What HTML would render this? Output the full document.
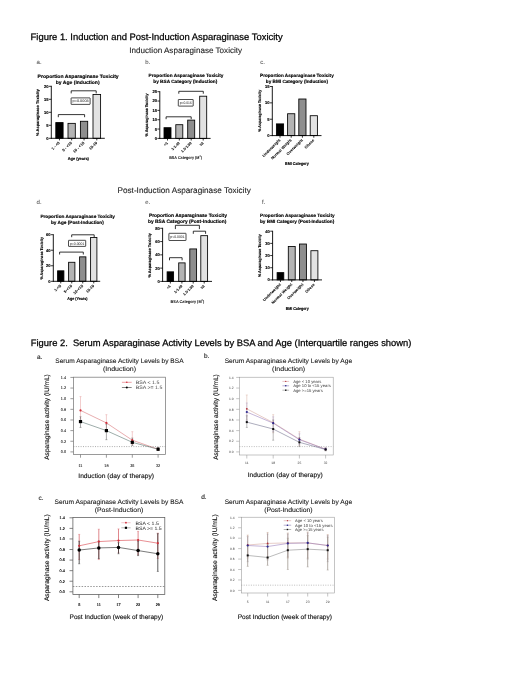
<!DOCTYPE html>
<html><head><meta charset="utf-8"><title>Figure</title>
<style>
html,body{margin:0;padding:0;background:#fff;}
body{width:520px;height:673px;overflow:hidden;font-family:"Liberation Sans",sans-serif;}
svg{display:block;filter:blur(0.35px);}
</style></head><body>
<svg width="520" height="673" viewBox="0 0 520 673" font-family="Liberation Sans, sans-serif" text-rendering="geometricPrecision">
<rect x="0" y="0" width="520" height="673" fill="#fff"/>
<text x="30.60" y="39.80" font-size="9.37" font-weight="normal" text-anchor="start" fill="#000" textLength="252.00" lengthAdjust="spacingAndGlyphs" stroke="#000" stroke-width="0.25">Figure 1. Induction and Post-Induction Asparaginase Toxicity</text>
<text x="129.30" y="52.50" font-size="8.05" font-weight="normal" text-anchor="start" fill="#222" textLength="112.80" lengthAdjust="spacingAndGlyphs" stroke="#222" stroke-width="0.1">Induction Asparaginase Toxicity</text>
<text x="117.50" y="192.90" font-size="8.16" font-weight="normal" text-anchor="start" fill="#222" textLength="133.30" lengthAdjust="spacingAndGlyphs" stroke="#222" stroke-width="0.1">Post-Induction Asparaginase Toxicity</text>
<text x="30.80" y="346.00" font-size="9.32" font-weight="normal" text-anchor="start" fill="#000" textLength="380.60" lengthAdjust="spacingAndGlyphs" xml:space="preserve" stroke="#000" stroke-width="0.25">Figure 2.  Serum Asparaginase Activity Levels by BSA and Age (Interquartile ranges shown)</text>
<text x="78.10" y="77.70" font-size="4.9" font-weight="bold" text-anchor="middle" fill="#000" textLength="81.20" lengthAdjust="spacingAndGlyphs" stroke="#000" stroke-width="0.14" >Proportion Asparaginase Toxicity</text>
<text x="77.70" y="84.00" font-size="4.9" font-weight="bold" text-anchor="middle" fill="#000" textLength="43.80" lengthAdjust="spacingAndGlyphs" stroke="#000" stroke-width="0.14" >by Age (Induction)</text>
<text x="36.60" y="64.20" font-size="6.0" font-weight="normal" text-anchor="start" fill="#3a3a3a" >a.</text>
<rect x="55.80" y="122.58" width="7.30" height="15.72" fill="#000000" stroke="#000" stroke-width="0.85"/>
<rect x="68.00" y="123.36" width="7.30" height="14.94" fill="#b4b4b4" stroke="#000" stroke-width="0.85"/>
<rect x="80.40" y="121.28" width="7.30" height="17.02" fill="#8e8e8e" stroke="#000" stroke-width="0.85"/>
<rect x="93.00" y="94.50" width="7.60" height="43.80" fill="#e2e2e2" stroke="#000" stroke-width="0.85"/>
<line x1="51.30" y1="85.80" x2="51.30" y2="138.75" stroke="#000" stroke-width="0.9" />
<line x1="50.85" y1="138.30" x2="104.80" y2="138.30" stroke="#000" stroke-width="0.9" />
<line x1="48.90" y1="138.30" x2="51.30" y2="138.30" stroke="#000" stroke-width="0.8" />
<text x="48.50" y="139.75" font-size="4.1" font-weight="bold" text-anchor="end" fill="#000" stroke="#000" stroke-width="0.14" >0</text>
<line x1="48.90" y1="125.30" x2="51.30" y2="125.30" stroke="#000" stroke-width="0.8" />
<text x="48.50" y="126.75" font-size="4.1" font-weight="bold" text-anchor="end" fill="#000" stroke="#000" stroke-width="0.14" >5</text>
<line x1="48.90" y1="112.30" x2="51.30" y2="112.30" stroke="#000" stroke-width="0.8" />
<text x="48.50" y="113.75" font-size="4.1" font-weight="bold" text-anchor="end" fill="#000" stroke="#000" stroke-width="0.14" >10</text>
<line x1="48.90" y1="99.30" x2="51.30" y2="99.30" stroke="#000" stroke-width="0.8" />
<text x="48.50" y="100.75" font-size="4.1" font-weight="bold" text-anchor="end" fill="#000" stroke="#000" stroke-width="0.14" >15</text>
<line x1="48.90" y1="86.30" x2="51.30" y2="86.30" stroke="#000" stroke-width="0.8" />
<text x="48.50" y="87.75" font-size="4.1" font-weight="bold" text-anchor="end" fill="#000" stroke="#000" stroke-width="0.14" >20</text>
<line x1="59.45" y1="138.30" x2="59.45" y2="140.40" stroke="#000" stroke-width="0.8" />
<text x="60.15" y="143.20" font-size="3.9" font-weight="bold" text-anchor="end" fill="#000" transform="rotate(-45 60.15 143.20)" stroke="#000" stroke-width="0.05" >1 - &lt;5</text>
<line x1="71.65" y1="138.30" x2="71.65" y2="140.40" stroke="#000" stroke-width="0.8" />
<text x="72.35" y="143.20" font-size="3.9" font-weight="bold" text-anchor="end" fill="#000" transform="rotate(-45 72.35 143.20)" stroke="#000" stroke-width="0.05" >5 - &lt;10</text>
<line x1="84.05" y1="138.30" x2="84.05" y2="140.40" stroke="#000" stroke-width="0.8" />
<text x="84.75" y="143.20" font-size="3.9" font-weight="bold" text-anchor="end" fill="#000" transform="rotate(-45 84.75 143.20)" stroke="#000" stroke-width="0.05" >10 - &lt;15</text>
<line x1="96.80" y1="138.30" x2="96.80" y2="140.40" stroke="#000" stroke-width="0.8" />
<text x="97.50" y="143.20" font-size="3.9" font-weight="bold" text-anchor="end" fill="#000" transform="rotate(-45 97.50 143.20)" stroke="#000" stroke-width="0.05" >15-19</text>
<text x="78.30" y="160.40" font-size="4.1" font-weight="bold" text-anchor="middle" fill="#000" textLength="21.10" lengthAdjust="spacingAndGlyphs" stroke="#000" stroke-width="0.14" >Age (years)</text>
<text x="39.10" y="112.60" font-size="4.0" font-weight="bold" text-anchor="middle" fill="#000" textLength="46.80" lengthAdjust="spacingAndGlyphs" transform="rotate(-90 39.10 112.60)" stroke="#000" stroke-width="0.14" >% Asparaginase Toxicity</text>
<path d="M71.20 93.40 V90.80 H96.20 V93.40" fill="none" stroke="#000" stroke-width="0.8" stroke-linejoin="miter"/>
<path d="M58.30 117.20 V114.60 H84.60 V117.20" fill="none" stroke="#000" stroke-width="0.8" stroke-linejoin="miter"/>
<rect x="71.10" y="97.90" width="19.00" height="6.50" rx="0.3" fill="#fff" stroke="#111" stroke-width="0.75"/>
<text x="80.60" y="102.40" font-size="3.6" font-weight="normal" text-anchor="middle" fill="#111" textLength="16.20" lengthAdjust="spacingAndGlyphs" >p=0.0003</text>
<text x="186.00" y="77.00" font-size="4.7" font-weight="bold" text-anchor="middle" fill="#000" textLength="75.00" lengthAdjust="spacingAndGlyphs" stroke="#000" stroke-width="0.14" >Proportion Asparaginase Toxicity</text>
<text x="185.30" y="83.00" font-size="4.7" font-weight="bold" text-anchor="middle" fill="#000" textLength="64.00" lengthAdjust="spacingAndGlyphs" stroke="#000" stroke-width="0.14" >by BSA Category (Induction)</text>
<text x="145.20" y="63.80" font-size="6.0" font-weight="normal" text-anchor="start" fill="#3a3a3a" >b.</text>
<rect x="164.00" y="127.69" width="7.00" height="10.71" fill="#000000" stroke="#000" stroke-width="0.85"/>
<rect x="175.80" y="124.70" width="7.00" height="13.70" fill="#b4b4b4" stroke="#000" stroke-width="0.85"/>
<rect x="187.70" y="120.12" width="7.00" height="18.28" fill="#8e8e8e" stroke="#000" stroke-width="0.85"/>
<rect x="199.70" y="96.21" width="7.00" height="42.19" fill="#e2e2e2" stroke="#000" stroke-width="0.85"/>
<line x1="159.80" y1="91.20" x2="159.80" y2="138.85" stroke="#000" stroke-width="0.9" />
<line x1="159.35" y1="138.40" x2="210.60" y2="138.40" stroke="#000" stroke-width="0.9" />
<line x1="157.40" y1="138.40" x2="159.80" y2="138.40" stroke="#000" stroke-width="0.8" />
<text x="157.00" y="139.85" font-size="4.1" font-weight="bold" text-anchor="end" fill="#000" stroke="#000" stroke-width="0.14" >0</text>
<line x1="157.40" y1="129.06" x2="159.80" y2="129.06" stroke="#000" stroke-width="0.8" />
<text x="157.00" y="130.51" font-size="4.1" font-weight="bold" text-anchor="end" fill="#000" stroke="#000" stroke-width="0.14" >5</text>
<line x1="157.40" y1="119.72" x2="159.80" y2="119.72" stroke="#000" stroke-width="0.8" />
<text x="157.00" y="121.17" font-size="4.1" font-weight="bold" text-anchor="end" fill="#000" stroke="#000" stroke-width="0.14" >10</text>
<line x1="157.40" y1="110.38" x2="159.80" y2="110.38" stroke="#000" stroke-width="0.8" />
<text x="157.00" y="111.83" font-size="4.1" font-weight="bold" text-anchor="end" fill="#000" stroke="#000" stroke-width="0.14" >15</text>
<line x1="157.40" y1="101.04" x2="159.80" y2="101.04" stroke="#000" stroke-width="0.8" />
<text x="157.00" y="102.49" font-size="4.1" font-weight="bold" text-anchor="end" fill="#000" stroke="#000" stroke-width="0.14" >20</text>
<line x1="157.40" y1="91.70" x2="159.80" y2="91.70" stroke="#000" stroke-width="0.8" />
<text x="157.00" y="93.15" font-size="4.1" font-weight="bold" text-anchor="end" fill="#000" stroke="#000" stroke-width="0.14" >25</text>
<line x1="167.50" y1="138.40" x2="167.50" y2="140.50" stroke="#000" stroke-width="0.8" />
<text x="168.20" y="143.30" font-size="3.6" font-weight="bold" text-anchor="end" fill="#000" transform="rotate(-45 168.20 143.30)" stroke="#000" stroke-width="0.05" >&lt;1</text>
<line x1="179.30" y1="138.40" x2="179.30" y2="140.50" stroke="#000" stroke-width="0.8" />
<text x="180.00" y="143.30" font-size="3.6" font-weight="bold" text-anchor="end" fill="#000" transform="rotate(-45 180.00 143.30)" stroke="#000" stroke-width="0.05" >1-1.49</text>
<line x1="191.20" y1="138.40" x2="191.20" y2="140.50" stroke="#000" stroke-width="0.8" />
<text x="191.90" y="143.30" font-size="3.6" font-weight="bold" text-anchor="end" fill="#000" transform="rotate(-45 191.90 143.30)" stroke="#000" stroke-width="0.05" >1.5-1.99</text>
<line x1="203.20" y1="138.40" x2="203.20" y2="140.50" stroke="#000" stroke-width="0.8" />
<text x="203.90" y="143.30" font-size="3.6" font-weight="bold" text-anchor="end" fill="#000" transform="rotate(-45 203.90 143.30)" stroke="#000" stroke-width="0.05" >≥2</text>
<text x="185.60" y="158.70" font-size="4.1" font-weight="bold" text-anchor="middle" fill="#000" textLength="32.80" lengthAdjust="spacingAndGlyphs">BSA Category (M<tspan font-size="2.6" dy="-1.6">2</tspan><tspan dy="1.6">)</tspan></text>
<text x="147.60" y="115.00" font-size="4.0" font-weight="bold" text-anchor="middle" fill="#000" textLength="43.00" lengthAdjust="spacingAndGlyphs" transform="rotate(-90 147.60 115.00)" stroke="#000" stroke-width="0.14" >% Asparaginase Toxicity</text>
<path d="M178.80 93.70 V91.30 H203.30 V93.70" fill="none" stroke="#000" stroke-width="0.8" stroke-linejoin="miter"/>
<path d="M166.10 119.20 V116.80 H191.20 V119.20" fill="none" stroke="#000" stroke-width="0.8" stroke-linejoin="miter"/>
<rect x="178.30" y="99.50" width="14.90" height="6.60" rx="0.3" fill="#fff" stroke="#111" stroke-width="0.75"/>
<text x="185.75" y="104.05" font-size="3.6" font-weight="normal" text-anchor="middle" fill="#111" textLength="12.10" lengthAdjust="spacingAndGlyphs" >p=0.016</text>
<text x="296.90" y="77.30" font-size="4.65" font-weight="bold" text-anchor="middle" fill="#000" textLength="73.70" lengthAdjust="spacingAndGlyphs" stroke="#000" stroke-width="0.14" >Proportion Asparaginase Toxicity</text>
<text x="296.90" y="83.00" font-size="4.65" font-weight="bold" text-anchor="middle" fill="#000" textLength="62.10" lengthAdjust="spacingAndGlyphs" stroke="#000" stroke-width="0.14" >by BMI Category (Induction)</text>
<text x="260.20" y="63.50" font-size="6.0" font-weight="normal" text-anchor="start" fill="#3a3a3a" >c.</text>
<rect x="276.40" y="123.89" width="7.20" height="11.71" fill="#000000" stroke="#000" stroke-width="0.85"/>
<rect x="287.60" y="113.74" width="7.20" height="21.86" fill="#b4b4b4" stroke="#000" stroke-width="0.85"/>
<rect x="298.80" y="99.01" width="7.20" height="36.59" fill="#8e8e8e" stroke="#000" stroke-width="0.85"/>
<rect x="310.20" y="115.71" width="7.20" height="19.89" fill="#e2e2e2" stroke="#000" stroke-width="0.85"/>
<line x1="272.30" y1="86.00" x2="272.30" y2="136.05" stroke="#000" stroke-width="0.9" />
<line x1="271.85" y1="135.60" x2="321.50" y2="135.60" stroke="#000" stroke-width="0.9" />
<line x1="269.90" y1="135.60" x2="272.30" y2="135.60" stroke="#000" stroke-width="0.8" />
<text x="269.50" y="137.05" font-size="4.1" font-weight="bold" text-anchor="end" fill="#000" stroke="#000" stroke-width="0.14" >0</text>
<line x1="269.90" y1="119.23" x2="272.30" y2="119.23" stroke="#000" stroke-width="0.8" />
<text x="269.50" y="120.68" font-size="4.1" font-weight="bold" text-anchor="end" fill="#000" stroke="#000" stroke-width="0.14" >5</text>
<line x1="269.90" y1="102.87" x2="272.30" y2="102.87" stroke="#000" stroke-width="0.8" />
<text x="269.50" y="104.32" font-size="4.1" font-weight="bold" text-anchor="end" fill="#000" stroke="#000" stroke-width="0.14" >10</text>
<line x1="269.90" y1="86.50" x2="272.30" y2="86.50" stroke="#000" stroke-width="0.8" />
<text x="269.50" y="87.95" font-size="4.1" font-weight="bold" text-anchor="end" fill="#000" stroke="#000" stroke-width="0.14" >15</text>
<line x1="280.00" y1="135.60" x2="280.00" y2="137.70" stroke="#000" stroke-width="0.8" />
<text x="280.70" y="140.50" font-size="3.9" font-weight="bold" text-anchor="end" fill="#000" transform="rotate(-45 280.70 140.50)" stroke="#000" stroke-width="0.05" >Underweight</text>
<line x1="291.20" y1="135.60" x2="291.20" y2="137.70" stroke="#000" stroke-width="0.8" />
<text x="291.90" y="140.50" font-size="3.9" font-weight="bold" text-anchor="end" fill="#000" transform="rotate(-45 291.90 140.50)" stroke="#000" stroke-width="0.05" >Normal Weight</text>
<line x1="302.40" y1="135.60" x2="302.40" y2="137.70" stroke="#000" stroke-width="0.8" />
<text x="303.10" y="140.50" font-size="3.9" font-weight="bold" text-anchor="end" fill="#000" transform="rotate(-45 303.10 140.50)" stroke="#000" stroke-width="0.05" >Overweight</text>
<line x1="313.80" y1="135.60" x2="313.80" y2="137.70" stroke="#000" stroke-width="0.8" />
<text x="314.50" y="140.50" font-size="3.9" font-weight="bold" text-anchor="end" fill="#000" transform="rotate(-45 314.50 140.50)" stroke="#000" stroke-width="0.05" >Obese</text>
<text x="296.90" y="165.30" font-size="4.1" font-weight="bold" text-anchor="middle" fill="#000" textLength="23.70" lengthAdjust="spacingAndGlyphs" stroke="#000" stroke-width="0.14" >BMI Category</text>
<text x="261.10" y="110.70" font-size="4.0" font-weight="bold" text-anchor="middle" fill="#000" textLength="42.00" lengthAdjust="spacingAndGlyphs" transform="rotate(-90 261.10 110.70)" stroke="#000" stroke-width="0.14" >% Asparaginase Toxicity</text>
<text x="77.70" y="217.50" font-size="4.7" font-weight="bold" text-anchor="middle" fill="#000" textLength="74.60" lengthAdjust="spacingAndGlyphs" stroke="#000" stroke-width="0.14" >Proportion Asparaginase Toxicity</text>
<text x="77.40" y="223.50" font-size="4.7" font-weight="bold" text-anchor="middle" fill="#000" textLength="52.80" lengthAdjust="spacingAndGlyphs" stroke="#000" stroke-width="0.14" >by Age (Post-Induction)</text>
<text x="36.60" y="203.80" font-size="6.0" font-weight="normal" text-anchor="start" fill="#3a3a3a" >d.</text>
<rect x="57.60" y="270.83" width="6.30" height="10.47" fill="#000000" stroke="#000" stroke-width="0.85"/>
<rect x="68.60" y="262.28" width="6.30" height="19.02" fill="#b4b4b4" stroke="#000" stroke-width="0.85"/>
<rect x="79.60" y="256.85" width="6.30" height="24.45" fill="#8e8e8e" stroke="#000" stroke-width="0.85"/>
<rect x="90.60" y="237.51" width="6.30" height="43.79" fill="#e2e2e2" stroke="#000" stroke-width="0.85"/>
<line x1="53.30" y1="234.20" x2="53.30" y2="281.75" stroke="#000" stroke-width="0.9" />
<line x1="52.85" y1="281.30" x2="100.20" y2="281.30" stroke="#000" stroke-width="0.9" />
<line x1="50.90" y1="281.30" x2="53.30" y2="281.30" stroke="#000" stroke-width="0.8" />
<text x="50.50" y="282.75" font-size="4.1" font-weight="bold" text-anchor="end" fill="#000" stroke="#000" stroke-width="0.14" >0</text>
<line x1="50.90" y1="265.77" x2="53.30" y2="265.77" stroke="#000" stroke-width="0.8" />
<text x="50.50" y="267.22" font-size="4.1" font-weight="bold" text-anchor="end" fill="#000" stroke="#000" stroke-width="0.14" >20</text>
<line x1="50.90" y1="250.23" x2="53.30" y2="250.23" stroke="#000" stroke-width="0.8" />
<text x="50.50" y="251.68" font-size="4.1" font-weight="bold" text-anchor="end" fill="#000" stroke="#000" stroke-width="0.14" >40</text>
<line x1="50.90" y1="234.70" x2="53.30" y2="234.70" stroke="#000" stroke-width="0.8" />
<text x="50.50" y="236.15" font-size="4.1" font-weight="bold" text-anchor="end" fill="#000" stroke="#000" stroke-width="0.14" >60</text>
<line x1="60.75" y1="281.30" x2="60.75" y2="283.40" stroke="#000" stroke-width="0.8" />
<text x="61.45" y="286.20" font-size="3.9" font-weight="bold" text-anchor="end" fill="#000" transform="rotate(-45 61.45 286.20)" stroke="#000" stroke-width="0.05" >1-&lt;5</text>
<line x1="71.75" y1="281.30" x2="71.75" y2="283.40" stroke="#000" stroke-width="0.8" />
<text x="72.45" y="286.20" font-size="3.9" font-weight="bold" text-anchor="end" fill="#000" transform="rotate(-45 72.45 286.20)" stroke="#000" stroke-width="0.05" >5-&lt;10</text>
<line x1="82.75" y1="281.30" x2="82.75" y2="283.40" stroke="#000" stroke-width="0.8" />
<text x="83.45" y="286.20" font-size="3.9" font-weight="bold" text-anchor="end" fill="#000" transform="rotate(-45 83.45 286.20)" stroke="#000" stroke-width="0.05" >10-&lt;15</text>
<line x1="93.75" y1="281.30" x2="93.75" y2="283.40" stroke="#000" stroke-width="0.8" />
<text x="94.45" y="286.20" font-size="3.9" font-weight="bold" text-anchor="end" fill="#000" transform="rotate(-45 94.45 286.20)" stroke="#000" stroke-width="0.05" >15-19</text>
<text x="77.40" y="300.20" font-size="4.1" font-weight="bold" text-anchor="middle" fill="#000" textLength="20.20" lengthAdjust="spacingAndGlyphs" stroke="#000" stroke-width="0.14" >Age (Years)</text>
<text x="42.80" y="258.30" font-size="4.0" font-weight="bold" text-anchor="middle" fill="#000" textLength="42.50" lengthAdjust="spacingAndGlyphs" transform="rotate(-90 42.80 258.30)" stroke="#000" stroke-width="0.14" >% Asparaginase Toxicity</text>
<path d="M71.70 237.20 V234.80 H94.20 V237.20" fill="none" stroke="#000" stroke-width="0.8" stroke-linejoin="miter"/>
<path d="M59.60 254.50 V252.10 H83.30 V254.50" fill="none" stroke="#000" stroke-width="0.8" stroke-linejoin="miter"/>
<rect x="68.50" y="240.30" width="17.20" height="6.10" rx="0.3" fill="#fff" stroke="#111" stroke-width="0.75"/>
<text x="77.10" y="244.60" font-size="3.6" font-weight="normal" text-anchor="middle" fill="#111" textLength="14.40" lengthAdjust="spacingAndGlyphs" >p&lt;0.0001</text>
<text x="187.90" y="217.00" font-size="4.9" font-weight="bold" text-anchor="middle" fill="#000" textLength="78.00" lengthAdjust="spacingAndGlyphs" stroke="#000" stroke-width="0.14" >Proportion Asparaginase Toxicity</text>
<text x="187.20" y="223.10" font-size="4.9" font-weight="bold" text-anchor="middle" fill="#000" textLength="78.30" lengthAdjust="spacingAndGlyphs" stroke="#000" stroke-width="0.14" >by BSA Category (Post-Induction)</text>
<text x="145.20" y="203.80" font-size="6.0" font-weight="normal" text-anchor="start" fill="#3a3a3a" >e.</text>
<rect x="167.10" y="271.84" width="6.50" height="9.56" fill="#000000" stroke="#000" stroke-width="0.85"/>
<rect x="178.70" y="262.88" width="6.40" height="18.52" fill="#b4b4b4" stroke="#000" stroke-width="0.85"/>
<rect x="189.80" y="248.94" width="6.80" height="32.46" fill="#8e8e8e" stroke="#000" stroke-width="0.85"/>
<rect x="200.80" y="235.67" width="6.80" height="45.73" fill="#e2e2e2" stroke="#000" stroke-width="0.85"/>
<line x1="162.60" y1="227.80" x2="162.60" y2="281.85" stroke="#000" stroke-width="0.9" />
<line x1="162.15" y1="281.40" x2="212.00" y2="281.40" stroke="#000" stroke-width="0.9" />
<line x1="160.20" y1="281.40" x2="162.60" y2="281.40" stroke="#000" stroke-width="0.8" />
<text x="159.80" y="282.85" font-size="4.1" font-weight="bold" text-anchor="end" fill="#000" stroke="#000" stroke-width="0.14" >0</text>
<line x1="160.20" y1="268.12" x2="162.60" y2="268.12" stroke="#000" stroke-width="0.8" />
<text x="159.80" y="269.57" font-size="4.1" font-weight="bold" text-anchor="end" fill="#000" stroke="#000" stroke-width="0.14" >20</text>
<line x1="160.20" y1="254.85" x2="162.60" y2="254.85" stroke="#000" stroke-width="0.8" />
<text x="159.80" y="256.30" font-size="4.1" font-weight="bold" text-anchor="end" fill="#000" stroke="#000" stroke-width="0.14" >40</text>
<line x1="160.20" y1="241.57" x2="162.60" y2="241.57" stroke="#000" stroke-width="0.8" />
<text x="159.80" y="243.02" font-size="4.1" font-weight="bold" text-anchor="end" fill="#000" stroke="#000" stroke-width="0.14" >60</text>
<line x1="160.20" y1="228.30" x2="162.60" y2="228.30" stroke="#000" stroke-width="0.8" />
<text x="159.80" y="229.75" font-size="4.1" font-weight="bold" text-anchor="end" fill="#000" stroke="#000" stroke-width="0.14" >80</text>
<line x1="170.35" y1="281.40" x2="170.35" y2="283.50" stroke="#000" stroke-width="0.8" />
<text x="171.05" y="286.30" font-size="3.6" font-weight="bold" text-anchor="end" fill="#000" transform="rotate(-45 171.05 286.30)" stroke="#000" stroke-width="0.05" >&lt;1</text>
<line x1="181.90" y1="281.40" x2="181.90" y2="283.50" stroke="#000" stroke-width="0.8" />
<text x="182.60" y="286.30" font-size="3.6" font-weight="bold" text-anchor="end" fill="#000" transform="rotate(-45 182.60 286.30)" stroke="#000" stroke-width="0.05" >1-1.49</text>
<line x1="193.20" y1="281.40" x2="193.20" y2="283.50" stroke="#000" stroke-width="0.8" />
<text x="193.90" y="286.30" font-size="3.6" font-weight="bold" text-anchor="end" fill="#000" transform="rotate(-45 193.90 286.30)" stroke="#000" stroke-width="0.05" >1.5-1.99</text>
<line x1="204.20" y1="281.40" x2="204.20" y2="283.50" stroke="#000" stroke-width="0.8" />
<text x="204.90" y="286.30" font-size="3.6" font-weight="bold" text-anchor="end" fill="#000" transform="rotate(-45 204.90 286.30)" stroke="#000" stroke-width="0.05" >≥2</text>
<text x="187.40" y="302.70" font-size="4.1" font-weight="bold" text-anchor="middle" fill="#000" textLength="33.60" lengthAdjust="spacingAndGlyphs">BSA Category (M<tspan font-size="2.6" dy="-1.6">2</tspan><tspan dy="1.6">)</tspan></text>
<text x="151.30" y="255.30" font-size="4.0" font-weight="bold" text-anchor="middle" fill="#000" textLength="44.50" lengthAdjust="spacingAndGlyphs" transform="rotate(-90 151.30 255.30)" stroke="#000" stroke-width="0.14" >% Asparaginase Toxicity</text>
<path d="M175.40 229.10 V225.30 H199.40 V229.10" fill="none" stroke="#000" stroke-width="0.8" stroke-linejoin="miter"/>
<path d="M193.30 233.80 V231.20 H205.60 V233.80" fill="none" stroke="#000" stroke-width="0.8" stroke-linejoin="miter"/>
<path d="M169.50 260.30 V257.70 H182.10 V260.30" fill="none" stroke="#000" stroke-width="0.8" stroke-linejoin="miter"/>
<rect x="168.90" y="233.30" width="17.10" height="7.20" rx="0.3" fill="#fff" stroke="#111" stroke-width="0.75"/>
<text x="177.45" y="238.15" font-size="3.6" font-weight="normal" text-anchor="middle" fill="#111" textLength="14.30" lengthAdjust="spacingAndGlyphs" >p&lt;0.0001</text>
<text x="260.00" y="216.70" font-size="4.7" font-weight="bold" text-anchor="start" fill="#000" textLength="74.60" lengthAdjust="spacingAndGlyphs" stroke="#000" stroke-width="0.14" >Proportion Asparaginase Toxicity</text>
<text x="260.00" y="222.50" font-size="4.7" font-weight="bold" text-anchor="start" fill="#000" textLength="74.20" lengthAdjust="spacingAndGlyphs" stroke="#000" stroke-width="0.14" >by BMI Category (Post-Induction)</text>
<text x="262.10" y="203.80" font-size="6.0" font-weight="normal" text-anchor="start" fill="#3a3a3a" >f.</text>
<rect x="277.10" y="272.63" width="6.70" height="7.27" fill="#000000" stroke="#000" stroke-width="0.85"/>
<rect x="288.30" y="246.45" width="6.90" height="33.45" fill="#b4b4b4" stroke="#000" stroke-width="0.85"/>
<rect x="299.50" y="244.02" width="6.90" height="35.88" fill="#8e8e8e" stroke="#000" stroke-width="0.85"/>
<rect x="310.90" y="250.71" width="7.00" height="29.19" fill="#e2e2e2" stroke="#000" stroke-width="0.85"/>
<line x1="272.60" y1="230.80" x2="272.60" y2="280.35" stroke="#000" stroke-width="0.9" />
<line x1="272.15" y1="279.90" x2="322.00" y2="279.90" stroke="#000" stroke-width="0.9" />
<line x1="270.20" y1="279.90" x2="272.60" y2="279.90" stroke="#000" stroke-width="0.8" />
<text x="269.80" y="281.35" font-size="4.1" font-weight="bold" text-anchor="end" fill="#000" stroke="#000" stroke-width="0.14" >0</text>
<line x1="270.20" y1="267.72" x2="272.60" y2="267.72" stroke="#000" stroke-width="0.8" />
<text x="269.80" y="269.17" font-size="4.1" font-weight="bold" text-anchor="end" fill="#000" stroke="#000" stroke-width="0.14" >10</text>
<line x1="270.20" y1="255.55" x2="272.60" y2="255.55" stroke="#000" stroke-width="0.8" />
<text x="269.80" y="257.00" font-size="4.1" font-weight="bold" text-anchor="end" fill="#000" stroke="#000" stroke-width="0.14" >20</text>
<line x1="270.20" y1="243.38" x2="272.60" y2="243.38" stroke="#000" stroke-width="0.8" />
<text x="269.80" y="244.82" font-size="4.1" font-weight="bold" text-anchor="end" fill="#000" stroke="#000" stroke-width="0.14" >30</text>
<line x1="270.20" y1="231.20" x2="272.60" y2="231.20" stroke="#000" stroke-width="0.8" />
<text x="269.80" y="232.65" font-size="4.1" font-weight="bold" text-anchor="end" fill="#000" stroke="#000" stroke-width="0.14" >40</text>
<line x1="280.45" y1="279.90" x2="280.45" y2="282.00" stroke="#000" stroke-width="0.8" />
<text x="281.15" y="284.80" font-size="3.9" font-weight="bold" text-anchor="end" fill="#000" transform="rotate(-45 281.15 284.80)" stroke="#000" stroke-width="0.05" >Underweight</text>
<line x1="291.75" y1="279.90" x2="291.75" y2="282.00" stroke="#000" stroke-width="0.8" />
<text x="292.45" y="284.80" font-size="3.9" font-weight="bold" text-anchor="end" fill="#000" transform="rotate(-45 292.45 284.80)" stroke="#000" stroke-width="0.05" >Normal Weight</text>
<line x1="302.95" y1="279.90" x2="302.95" y2="282.00" stroke="#000" stroke-width="0.8" />
<text x="303.65" y="284.80" font-size="3.9" font-weight="bold" text-anchor="end" fill="#000" transform="rotate(-45 303.65 284.80)" stroke="#000" stroke-width="0.05" >Overweight</text>
<line x1="314.40" y1="279.90" x2="314.40" y2="282.00" stroke="#000" stroke-width="0.8" />
<text x="315.10" y="284.80" font-size="3.9" font-weight="bold" text-anchor="end" fill="#000" transform="rotate(-45 315.10 284.80)" stroke="#000" stroke-width="0.05" >Obese</text>
<text x="297.20" y="309.90" font-size="4.1" font-weight="bold" text-anchor="middle" fill="#000" textLength="23.10" lengthAdjust="spacingAndGlyphs" stroke="#000" stroke-width="0.14" >BMI Category</text>
<text x="261.30" y="255.60" font-size="4.0" font-weight="bold" text-anchor="middle" fill="#000" textLength="43.00" lengthAdjust="spacingAndGlyphs" transform="rotate(-90 261.30 255.60)" stroke="#000" stroke-width="0.14" >% Asparaginase Toxicity</text>
<text x="36.90" y="358.60" font-size="6.5" font-weight="normal" text-anchor="start" fill="#111" stroke="#111" stroke-width="0.1">a.</text>
<text x="119.40" y="363.00" font-size="6.55" font-weight="normal" text-anchor="middle" fill="#111" textLength="128.30" lengthAdjust="spacingAndGlyphs" stroke="#111" stroke-width="0.08">Serum Asparaginase Activity Levels by BSA</text>
<text x="119.50" y="370.80" font-size="6.55" font-weight="normal" text-anchor="middle" fill="#111" textLength="33.00" lengthAdjust="spacingAndGlyphs" stroke="#111" stroke-width="0.08">(Induction)</text>
<line x1="73.40" y1="446.58" x2="165.50" y2="446.58" stroke="#666" stroke-width="0.55" stroke-dasharray="1.0 1.4"/>
<line x1="80.50" y1="418.92" x2="80.50" y2="396.57" stroke="#e59a9a" stroke-width="0.5" />
<line x1="79.50" y1="418.92" x2="81.50" y2="418.92" stroke="#e59a9a" stroke-width="0.45" />
<line x1="79.50" y1="396.57" x2="81.50" y2="396.57" stroke="#e59a9a" stroke-width="0.45" />
<line x1="106.40" y1="430.62" x2="106.40" y2="414.66" stroke="#e59a9a" stroke-width="0.5" />
<line x1="105.40" y1="430.62" x2="107.40" y2="430.62" stroke="#e59a9a" stroke-width="0.45" />
<line x1="105.40" y1="414.66" x2="107.40" y2="414.66" stroke="#e59a9a" stroke-width="0.45" />
<line x1="132.30" y1="444.45" x2="132.30" y2="431.68" stroke="#e59a9a" stroke-width="0.5" />
<line x1="131.30" y1="444.45" x2="133.30" y2="444.45" stroke="#e59a9a" stroke-width="0.45" />
<line x1="131.30" y1="431.68" x2="133.30" y2="431.68" stroke="#e59a9a" stroke-width="0.45" />
<line x1="158.10" y1="450.30" x2="158.10" y2="447.64" stroke="#e59a9a" stroke-width="0.5" />
<line x1="157.10" y1="450.30" x2="159.10" y2="450.30" stroke="#e59a9a" stroke-width="0.45" />
<line x1="157.10" y1="447.64" x2="159.10" y2="447.64" stroke="#e59a9a" stroke-width="0.45" />
<line x1="80.50" y1="427.43" x2="80.50" y2="416.79" stroke="#555" stroke-width="0.5" />
<line x1="79.50" y1="427.43" x2="81.50" y2="427.43" stroke="#555" stroke-width="0.45" />
<line x1="79.50" y1="416.79" x2="81.50" y2="416.79" stroke="#555" stroke-width="0.45" />
<line x1="106.40" y1="439.66" x2="106.40" y2="424.24" stroke="#555" stroke-width="0.5" />
<line x1="105.40" y1="439.66" x2="107.40" y2="439.66" stroke="#555" stroke-width="0.45" />
<line x1="105.40" y1="424.24" x2="107.40" y2="424.24" stroke="#555" stroke-width="0.45" />
<line x1="132.30" y1="445.52" x2="132.30" y2="438.07" stroke="#555" stroke-width="0.5" />
<line x1="131.30" y1="445.52" x2="133.30" y2="445.52" stroke="#555" stroke-width="0.45" />
<line x1="131.30" y1="438.07" x2="133.30" y2="438.07" stroke="#555" stroke-width="0.45" />
<line x1="158.10" y1="450.30" x2="158.10" y2="447.64" stroke="#555" stroke-width="0.5" />
<line x1="157.10" y1="450.30" x2="159.10" y2="450.30" stroke="#555" stroke-width="0.45" />
<line x1="157.10" y1="447.64" x2="159.10" y2="447.64" stroke="#555" stroke-width="0.45" />
<polyline fill="none" stroke="#d05a5e" stroke-width="0.5" points="80.50,410.40 106.40,422.91 132.30,440.20 158.10,449.24"/>
<circle cx="80.50" cy="410.40" r="1.1" fill="#d0303c"/>
<circle cx="106.40" cy="422.91" r="1.1" fill="#d0303c"/>
<circle cx="132.30" cy="440.20" r="1.1" fill="#d0303c"/>
<circle cx="158.10" cy="449.24" r="1.1" fill="#d0303c"/>
<polyline fill="none" stroke="#3c5a54" stroke-width="0.5" points="80.50,421.58 106.40,430.62 132.30,442.32 158.10,449.24"/>
<rect x="78.90" y="419.98" width="3.2" height="3.2" fill="#000"/>
<rect x="104.80" y="429.02" width="3.2" height="3.2" fill="#000"/>
<rect x="130.70" y="440.72" width="3.2" height="3.2" fill="#000"/>
<rect x="156.50" y="447.64" width="3.2" height="3.2" fill="#000"/>
<rect x="73.40" y="377.20" width="92.10" height="77.20" fill="none" stroke="#7a7a7a" stroke-width="0.75"/>
<line x1="70.40" y1="451.90" x2="73.40" y2="451.90" stroke="#7a7a7a" stroke-width="0.75" />
<text x="66.00" y="453.27" font-size="3.8" font-weight="normal" text-anchor="end" fill="#000" stroke="#000" stroke-width="0.04">0.0</text>
<line x1="70.40" y1="441.26" x2="73.40" y2="441.26" stroke="#7a7a7a" stroke-width="0.75" />
<text x="66.00" y="442.63" font-size="3.8" font-weight="normal" text-anchor="end" fill="#000" stroke="#000" stroke-width="0.04">0.2</text>
<line x1="70.40" y1="430.62" x2="73.40" y2="430.62" stroke="#7a7a7a" stroke-width="0.75" />
<text x="66.00" y="431.99" font-size="3.8" font-weight="normal" text-anchor="end" fill="#000" stroke="#000" stroke-width="0.04">0.4</text>
<line x1="70.40" y1="419.98" x2="73.40" y2="419.98" stroke="#7a7a7a" stroke-width="0.75" />
<text x="66.00" y="421.35" font-size="3.8" font-weight="normal" text-anchor="end" fill="#000" stroke="#000" stroke-width="0.04">0.6</text>
<line x1="70.40" y1="409.34" x2="73.40" y2="409.34" stroke="#7a7a7a" stroke-width="0.75" />
<text x="66.00" y="410.71" font-size="3.8" font-weight="normal" text-anchor="end" fill="#000" stroke="#000" stroke-width="0.04">0.8</text>
<line x1="70.40" y1="398.70" x2="73.40" y2="398.70" stroke="#7a7a7a" stroke-width="0.75" />
<text x="66.00" y="400.07" font-size="3.8" font-weight="normal" text-anchor="end" fill="#000" stroke="#000" stroke-width="0.04">1.0</text>
<line x1="70.40" y1="388.06" x2="73.40" y2="388.06" stroke="#7a7a7a" stroke-width="0.75" />
<text x="66.00" y="389.43" font-size="3.8" font-weight="normal" text-anchor="end" fill="#000" stroke="#000" stroke-width="0.04">1.2</text>
<line x1="70.40" y1="377.42" x2="73.40" y2="377.42" stroke="#7a7a7a" stroke-width="0.75" />
<text x="66.00" y="378.79" font-size="3.8" font-weight="normal" text-anchor="end" fill="#000" stroke="#000" stroke-width="0.04">1.4</text>
<line x1="80.50" y1="454.40" x2="80.50" y2="457.70" stroke="#7a7a7a" stroke-width="0.75" />
<text x="80.50" y="466.60" font-size="3.8" font-weight="normal" text-anchor="middle" fill="#000" stroke="#000" stroke-width="0.04">11</text>
<line x1="106.40" y1="454.40" x2="106.40" y2="457.70" stroke="#7a7a7a" stroke-width="0.75" />
<text x="106.40" y="466.60" font-size="3.8" font-weight="normal" text-anchor="middle" fill="#000" stroke="#000" stroke-width="0.04">18</text>
<line x1="132.30" y1="454.40" x2="132.30" y2="457.70" stroke="#7a7a7a" stroke-width="0.75" />
<text x="132.30" y="466.60" font-size="3.8" font-weight="normal" text-anchor="middle" fill="#000" stroke="#000" stroke-width="0.04">25</text>
<line x1="158.10" y1="454.40" x2="158.10" y2="457.70" stroke="#7a7a7a" stroke-width="0.75" />
<text x="158.10" y="466.60" font-size="3.8" font-weight="normal" text-anchor="middle" fill="#000" stroke="#000" stroke-width="0.04">32</text>
<text x="116.20" y="477.50" font-size="6.55" font-weight="normal" text-anchor="middle" fill="#111" textLength="75.80" lengthAdjust="spacingAndGlyphs" stroke="#111" stroke-width="0.14">Induction (day of therapy)</text>
<text x="48.80" y="417.00" font-size="6.55" font-weight="normal" text-anchor="middle" fill="#111" textLength="85.50" lengthAdjust="spacingAndGlyphs" transform="rotate(-90 48.80 417.00)" stroke="#111" stroke-width="0.14">Asparaginase activity (IU/mL)</text>
<line x1="121.90" y1="382.30" x2="131.70" y2="382.30" stroke="#e0606a" stroke-width="0.6" />
<circle cx="126.80" cy="382.30" r="0.8" fill="#d0303c"/>
<text x="135.80" y="384.10" font-size="4.9" font-weight="normal" text-anchor="start" fill="#444" textLength="23.60" lengthAdjust="spacingAndGlyphs" >BSA &lt; 1.5</text>
<line x1="121.90" y1="387.50" x2="131.70" y2="387.50" stroke="#333" stroke-width="0.6" />
<circle cx="126.80" cy="387.50" r="1.0" fill="#000"/>
<text x="135.80" y="389.30" font-size="4.9" font-weight="normal" text-anchor="start" fill="#444" textLength="26.50" lengthAdjust="spacingAndGlyphs" >BSA &gt;= 1.5</text>
<text x="204.00" y="358.20" font-size="6.5" font-weight="normal" text-anchor="start" fill="#111" stroke="#111" stroke-width="0.1">b.</text>
<text x="288.40" y="363.00" font-size="6.55" font-weight="normal" text-anchor="middle" fill="#111" textLength="127.50" lengthAdjust="spacingAndGlyphs" stroke="#111" stroke-width="0.08">Serum Asparaginase Activity Levels by Age</text>
<text x="288.60" y="370.80" font-size="6.55" font-weight="normal" text-anchor="middle" fill="#111" textLength="33.00" lengthAdjust="spacingAndGlyphs" stroke="#111" stroke-width="0.08">(Induction)</text>
<line x1="239.40" y1="446.58" x2="333.20" y2="446.58" stroke="#888" stroke-width="0.55" stroke-dasharray="1.0 1.4"/>
<line x1="246.80" y1="419.98" x2="246.80" y2="394.98" stroke="#d8b0a0" stroke-width="0.5" />
<line x1="245.80" y1="419.98" x2="247.80" y2="419.98" stroke="#d8b0a0" stroke-width="0.45" />
<line x1="245.80" y1="394.98" x2="247.80" y2="394.98" stroke="#d8b0a0" stroke-width="0.45" />
<line x1="273.20" y1="432.75" x2="273.20" y2="414.66" stroke="#d8b0a0" stroke-width="0.5" />
<line x1="272.20" y1="432.75" x2="274.20" y2="432.75" stroke="#d8b0a0" stroke-width="0.45" />
<line x1="272.20" y1="414.66" x2="274.20" y2="414.66" stroke="#d8b0a0" stroke-width="0.45" />
<line x1="299.40" y1="445.52" x2="299.40" y2="431.68" stroke="#d8b0a0" stroke-width="0.5" />
<line x1="298.40" y1="445.52" x2="300.40" y2="445.52" stroke="#d8b0a0" stroke-width="0.45" />
<line x1="298.40" y1="431.68" x2="300.40" y2="431.68" stroke="#d8b0a0" stroke-width="0.45" />
<line x1="325.60" y1="450.30" x2="325.60" y2="447.64" stroke="#d8b0a0" stroke-width="0.5" />
<line x1="324.60" y1="450.30" x2="326.60" y2="450.30" stroke="#d8b0a0" stroke-width="0.45" />
<line x1="324.60" y1="447.64" x2="326.60" y2="447.64" stroke="#d8b0a0" stroke-width="0.45" />
<line x1="246.80" y1="421.04" x2="246.80" y2="402.96" stroke="#b0a4c8" stroke-width="0.5" />
<line x1="245.80" y1="421.04" x2="247.80" y2="421.04" stroke="#b0a4c8" stroke-width="0.45" />
<line x1="245.80" y1="402.96" x2="247.80" y2="402.96" stroke="#b0a4c8" stroke-width="0.45" />
<line x1="273.20" y1="431.68" x2="273.20" y2="416.79" stroke="#b0a4c8" stroke-width="0.5" />
<line x1="272.20" y1="431.68" x2="274.20" y2="431.68" stroke="#b0a4c8" stroke-width="0.45" />
<line x1="272.20" y1="416.79" x2="274.20" y2="416.79" stroke="#b0a4c8" stroke-width="0.45" />
<line x1="299.40" y1="444.45" x2="299.40" y2="433.81" stroke="#b0a4c8" stroke-width="0.5" />
<line x1="298.40" y1="444.45" x2="300.40" y2="444.45" stroke="#b0a4c8" stroke-width="0.45" />
<line x1="298.40" y1="433.81" x2="300.40" y2="433.81" stroke="#b0a4c8" stroke-width="0.45" />
<line x1="325.60" y1="450.30" x2="325.60" y2="447.64" stroke="#b0a4c8" stroke-width="0.5" />
<line x1="324.60" y1="450.30" x2="326.60" y2="450.30" stroke="#b0a4c8" stroke-width="0.45" />
<line x1="324.60" y1="447.64" x2="326.60" y2="447.64" stroke="#b0a4c8" stroke-width="0.45" />
<line x1="246.80" y1="427.43" x2="246.80" y2="415.72" stroke="#777" stroke-width="0.5" />
<line x1="245.80" y1="427.43" x2="247.80" y2="427.43" stroke="#777" stroke-width="0.45" />
<line x1="245.80" y1="415.72" x2="247.80" y2="415.72" stroke="#777" stroke-width="0.45" />
<line x1="273.20" y1="440.20" x2="273.20" y2="419.98" stroke="#777" stroke-width="0.5" />
<line x1="272.20" y1="440.20" x2="274.20" y2="440.20" stroke="#777" stroke-width="0.45" />
<line x1="272.20" y1="419.98" x2="274.20" y2="419.98" stroke="#777" stroke-width="0.45" />
<line x1="299.40" y1="446.58" x2="299.40" y2="437.54" stroke="#777" stroke-width="0.5" />
<line x1="298.40" y1="446.58" x2="300.40" y2="446.58" stroke="#777" stroke-width="0.45" />
<line x1="298.40" y1="437.54" x2="300.40" y2="437.54" stroke="#777" stroke-width="0.45" />
<line x1="325.60" y1="450.84" x2="325.60" y2="448.18" stroke="#777" stroke-width="0.5" />
<line x1="324.60" y1="450.84" x2="326.60" y2="450.84" stroke="#777" stroke-width="0.45" />
<line x1="324.60" y1="448.18" x2="326.60" y2="448.18" stroke="#777" stroke-width="0.45" />
<polyline fill="none" stroke="#cf9a90" stroke-width="0.5" points="246.80,408.81 273.20,422.64 299.40,439.13 325.60,449.24"/>
<circle cx="246.80" cy="408.81" r="0.9" fill="#b03038"/>
<circle cx="273.20" cy="422.64" r="0.9" fill="#b03038"/>
<circle cx="299.40" cy="439.13" r="0.9" fill="#b03038"/>
<circle cx="325.60" cy="449.24" r="0.9" fill="#b03038"/>
<polyline fill="none" stroke="#8a6ab0" stroke-width="0.5" points="246.80,412.00 273.20,423.17 299.40,439.66 325.60,449.24"/>
<circle cx="246.80" cy="412.00" r="1.1" fill="#2a2a90"/>
<circle cx="273.20" cy="423.17" r="1.1" fill="#2a2a90"/>
<circle cx="299.40" cy="439.66" r="1.1" fill="#2a2a90"/>
<circle cx="325.60" cy="449.24" r="1.1" fill="#2a2a90"/>
<polyline fill="none" stroke="#5a5a7a" stroke-width="0.5" points="246.80,422.11 273.20,429.02 299.40,442.32 325.60,449.51"/>
<rect x="245.80" y="421.11" width="2.0" height="2.0" fill="#111"/>
<rect x="272.20" y="428.02" width="2.0" height="2.0" fill="#111"/>
<rect x="298.40" y="441.32" width="2.0" height="2.0" fill="#111"/>
<rect x="324.60" y="448.51" width="2.0" height="2.0" fill="#111"/>
<rect x="239.40" y="377.20" width="93.80" height="77.80" fill="none" stroke="#949494" stroke-width="0.55"/>
<line x1="236.20" y1="451.90" x2="239.40" y2="451.90" stroke="#949494" stroke-width="0.55" />
<text x="233.50" y="453.09" font-size="3.3" font-weight="normal" text-anchor="end" fill="#444" >0.0</text>
<line x1="236.20" y1="441.26" x2="239.40" y2="441.26" stroke="#949494" stroke-width="0.55" />
<text x="233.50" y="442.45" font-size="3.3" font-weight="normal" text-anchor="end" fill="#444" >0.2</text>
<line x1="236.20" y1="430.62" x2="239.40" y2="430.62" stroke="#949494" stroke-width="0.55" />
<text x="233.50" y="431.81" font-size="3.3" font-weight="normal" text-anchor="end" fill="#444" >0.4</text>
<line x1="236.20" y1="419.98" x2="239.40" y2="419.98" stroke="#949494" stroke-width="0.55" />
<text x="233.50" y="421.17" font-size="3.3" font-weight="normal" text-anchor="end" fill="#444" >0.6</text>
<line x1="236.20" y1="409.34" x2="239.40" y2="409.34" stroke="#949494" stroke-width="0.55" />
<text x="233.50" y="410.53" font-size="3.3" font-weight="normal" text-anchor="end" fill="#444" >0.8</text>
<line x1="236.20" y1="398.70" x2="239.40" y2="398.70" stroke="#949494" stroke-width="0.55" />
<text x="233.50" y="399.89" font-size="3.3" font-weight="normal" text-anchor="end" fill="#444" >1.0</text>
<line x1="236.20" y1="388.06" x2="239.40" y2="388.06" stroke="#949494" stroke-width="0.55" />
<text x="233.50" y="389.25" font-size="3.3" font-weight="normal" text-anchor="end" fill="#444" >1.2</text>
<line x1="236.20" y1="377.42" x2="239.40" y2="377.42" stroke="#949494" stroke-width="0.55" />
<text x="233.50" y="378.61" font-size="3.3" font-weight="normal" text-anchor="end" fill="#444" >1.4</text>
<line x1="246.80" y1="455.00" x2="246.80" y2="458.50" stroke="#949494" stroke-width="0.55" />
<text x="246.80" y="463.80" font-size="3.3" font-weight="normal" text-anchor="middle" fill="#444" >11</text>
<line x1="273.20" y1="455.00" x2="273.20" y2="458.50" stroke="#949494" stroke-width="0.55" />
<text x="273.20" y="463.80" font-size="3.3" font-weight="normal" text-anchor="middle" fill="#444" >18</text>
<line x1="299.40" y1="455.00" x2="299.40" y2="458.50" stroke="#949494" stroke-width="0.55" />
<text x="299.40" y="463.80" font-size="3.3" font-weight="normal" text-anchor="middle" fill="#444" >25</text>
<line x1="325.60" y1="455.00" x2="325.60" y2="458.50" stroke="#949494" stroke-width="0.55" />
<text x="325.60" y="463.80" font-size="3.3" font-weight="normal" text-anchor="middle" fill="#444" >32</text>
<text x="285.20" y="477.10" font-size="6.55" font-weight="normal" text-anchor="middle" fill="#111" textLength="75.00" lengthAdjust="spacingAndGlyphs" stroke="#111" stroke-width="0.14">Induction (day of therapy)</text>
<text x="217.50" y="417.00" font-size="6.55" font-weight="normal" text-anchor="middle" fill="#111" textLength="85.50" lengthAdjust="spacingAndGlyphs" transform="rotate(-90 217.50 417.00)" stroke="#111" stroke-width="0.14">Asparaginase activity (IU/mL)</text>
<line x1="282.40" y1="381.40" x2="289.10" y2="381.40" stroke="#d8a0a0" stroke-width="0.6" />
<circle cx="285.75" cy="381.40" r="0.6" fill="#b03038"/>
<text x="293.20" y="382.90" font-size="4.2" font-weight="normal" text-anchor="start" fill="#3a3a3a" textLength="28.20" lengthAdjust="spacingAndGlyphs" >Age &lt; 10 years</text>
<line x1="282.40" y1="385.80" x2="289.10" y2="385.80" stroke="#8a7ab0" stroke-width="0.6" />
<circle cx="285.75" cy="385.80" r="0.8" fill="#2a2a90"/>
<text x="293.20" y="387.30" font-size="4.2" font-weight="normal" text-anchor="start" fill="#3a3a3a" textLength="37.70" lengthAdjust="spacingAndGlyphs" >Age 10 to &lt;15 years</text>
<line x1="282.40" y1="390.20" x2="289.10" y2="390.20" stroke="#888" stroke-width="0.6" />
<rect x="285.05" y="389.50" width="1.4" height="1.4" fill="#111"/>
<text x="293.20" y="391.70" font-size="4.2" font-weight="normal" text-anchor="start" fill="#3a3a3a" textLength="29.60" lengthAdjust="spacingAndGlyphs" >Age &gt;=15 years</text>
<text x="38.50" y="500.30" font-size="6.5" font-weight="normal" text-anchor="start" fill="#111" stroke="#111" stroke-width="0.1">c.</text>
<text x="119.00" y="503.50" font-size="6.55" font-weight="normal" text-anchor="middle" fill="#111" textLength="128.90" lengthAdjust="spacingAndGlyphs" stroke="#111" stroke-width="0.08">Serum Asparaginase Activity Levels by BSA</text>
<text x="119.00" y="511.60" font-size="6.55" font-weight="normal" text-anchor="middle" fill="#111" textLength="48.50" lengthAdjust="spacingAndGlyphs" stroke="#111" stroke-width="0.08">(Post-Induction)</text>
<line x1="72.90" y1="586.51" x2="164.80" y2="586.51" stroke="#444" stroke-width="0.55" stroke-dasharray="1.5 1.4"/>
<line x1="79.20" y1="559.56" x2="79.20" y2="534.40" stroke="#d86a70" stroke-width="0.8" />
<line x1="78.20" y1="559.56" x2="80.20" y2="559.56" stroke="#d86a70" stroke-width="0.45" />
<line x1="78.20" y1="534.40" x2="80.20" y2="534.40" stroke="#d86a70" stroke-width="0.45" />
<line x1="98.80" y1="559.56" x2="98.80" y2="529.23" stroke="#d86a70" stroke-width="0.8" />
<line x1="97.80" y1="559.56" x2="99.80" y2="559.56" stroke="#d86a70" stroke-width="0.45" />
<line x1="97.80" y1="529.23" x2="99.80" y2="529.23" stroke="#d86a70" stroke-width="0.45" />
<line x1="118.50" y1="552.69" x2="118.50" y2="528.91" stroke="#d86a70" stroke-width="0.8" />
<line x1="117.50" y1="552.69" x2="119.50" y2="552.69" stroke="#d86a70" stroke-width="0.45" />
<line x1="117.50" y1="528.91" x2="119.50" y2="528.91" stroke="#d86a70" stroke-width="0.45" />
<line x1="138.10" y1="554.80" x2="138.10" y2="531.39" stroke="#d86a70" stroke-width="0.8" />
<line x1="137.10" y1="554.80" x2="139.10" y2="554.80" stroke="#d86a70" stroke-width="0.45" />
<line x1="137.10" y1="531.39" x2="139.10" y2="531.39" stroke="#d86a70" stroke-width="0.45" />
<line x1="157.80" y1="558.50" x2="157.80" y2="533.14" stroke="#d86a70" stroke-width="0.8" />
<line x1="156.80" y1="558.50" x2="158.80" y2="558.50" stroke="#d86a70" stroke-width="0.45" />
<line x1="156.80" y1="533.14" x2="158.80" y2="533.14" stroke="#d86a70" stroke-width="0.45" />
<line x1="79.20" y1="563.79" x2="79.20" y2="541.22" stroke="#333" stroke-width="0.8" />
<line x1="78.20" y1="563.79" x2="80.20" y2="563.79" stroke="#333" stroke-width="0.45" />
<line x1="78.20" y1="541.22" x2="80.20" y2="541.22" stroke="#333" stroke-width="0.45" />
<line x1="98.80" y1="558.50" x2="98.80" y2="541.06" stroke="#333" stroke-width="0.8" />
<line x1="97.80" y1="558.50" x2="99.80" y2="558.50" stroke="#333" stroke-width="0.45" />
<line x1="97.80" y1="541.06" x2="99.80" y2="541.06" stroke="#333" stroke-width="0.45" />
<line x1="118.50" y1="553.75" x2="118.50" y2="542.65" stroke="#333" stroke-width="0.8" />
<line x1="117.50" y1="553.75" x2="119.50" y2="553.75" stroke="#333" stroke-width="0.45" />
<line x1="117.50" y1="542.65" x2="119.50" y2="542.65" stroke="#333" stroke-width="0.45" />
<line x1="138.10" y1="555.60" x2="138.10" y2="541.06" stroke="#333" stroke-width="0.8" />
<line x1="137.10" y1="555.60" x2="139.10" y2="555.60" stroke="#333" stroke-width="0.45" />
<line x1="137.10" y1="541.06" x2="139.10" y2="541.06" stroke="#333" stroke-width="0.45" />
<line x1="157.80" y1="571.45" x2="157.80" y2="533.66" stroke="#333" stroke-width="0.8" />
<line x1="156.80" y1="571.45" x2="158.80" y2="571.45" stroke="#333" stroke-width="0.45" />
<line x1="156.80" y1="533.66" x2="158.80" y2="533.66" stroke="#333" stroke-width="0.45" />
<polyline fill="none" stroke="#d9434a" stroke-width="0.6" points="79.20,545.82 98.80,541.59 118.50,540.54 138.10,540.01 157.80,543.18"/>
<circle cx="79.20" cy="545.82" r="1.1" fill="#d0303c"/>
<circle cx="98.80" cy="541.59" r="1.1" fill="#d0303c"/>
<circle cx="118.50" cy="540.54" r="1.1" fill="#d0303c"/>
<circle cx="138.10" cy="540.01" r="1.1" fill="#d0303c"/>
<circle cx="157.80" cy="543.18" r="1.1" fill="#d0303c"/>
<polyline fill="none" stroke="#222" stroke-width="0.6" points="79.20,550.05 98.80,547.93 118.50,547.41 138.10,550.58 157.80,553.75"/>
<circle cx="79.20" cy="550.05" r="1.75" fill="#000"/>
<circle cx="98.80" cy="547.93" r="1.75" fill="#000"/>
<circle cx="118.50" cy="547.41" r="1.75" fill="#000"/>
<circle cx="138.10" cy="550.58" r="1.75" fill="#000"/>
<circle cx="157.80" cy="553.75" r="1.75" fill="#000"/>
<rect x="72.90" y="517.50" width="91.90" height="76.90" fill="none" stroke="#5a5a5a" stroke-width="0.75"/>
<line x1="69.50" y1="591.80" x2="72.90" y2="591.80" stroke="#5a5a5a" stroke-width="0.75" />
<text x="64.90" y="593.17" font-size="3.8" font-weight="normal" text-anchor="end" fill="#000" stroke="#000" stroke-width="0.13">0.0</text>
<line x1="69.50" y1="581.23" x2="72.90" y2="581.23" stroke="#5a5a5a" stroke-width="0.75" />
<text x="64.90" y="582.60" font-size="3.8" font-weight="normal" text-anchor="end" fill="#000" stroke="#000" stroke-width="0.13">0.2</text>
<line x1="69.50" y1="570.66" x2="72.90" y2="570.66" stroke="#5a5a5a" stroke-width="0.75" />
<text x="64.90" y="572.03" font-size="3.8" font-weight="normal" text-anchor="end" fill="#000" stroke="#000" stroke-width="0.13">0.4</text>
<line x1="69.50" y1="560.09" x2="72.90" y2="560.09" stroke="#5a5a5a" stroke-width="0.75" />
<text x="64.90" y="561.46" font-size="3.8" font-weight="normal" text-anchor="end" fill="#000" stroke="#000" stroke-width="0.13">0.6</text>
<line x1="69.50" y1="549.52" x2="72.90" y2="549.52" stroke="#5a5a5a" stroke-width="0.75" />
<text x="64.90" y="550.89" font-size="3.8" font-weight="normal" text-anchor="end" fill="#000" stroke="#000" stroke-width="0.13">0.8</text>
<line x1="69.50" y1="538.95" x2="72.90" y2="538.95" stroke="#5a5a5a" stroke-width="0.75" />
<text x="64.90" y="540.32" font-size="3.8" font-weight="normal" text-anchor="end" fill="#000" stroke="#000" stroke-width="0.13">1.0</text>
<line x1="69.50" y1="528.38" x2="72.90" y2="528.38" stroke="#5a5a5a" stroke-width="0.75" />
<text x="64.90" y="529.75" font-size="3.8" font-weight="normal" text-anchor="end" fill="#000" stroke="#000" stroke-width="0.13">1.2</text>
<line x1="69.50" y1="517.81" x2="72.90" y2="517.81" stroke="#5a5a5a" stroke-width="0.75" />
<text x="64.90" y="519.18" font-size="3.8" font-weight="normal" text-anchor="end" fill="#000" stroke="#000" stroke-width="0.13">1.4</text>
<line x1="79.20" y1="594.40" x2="79.20" y2="598.10" stroke="#5a5a5a" stroke-width="0.75" />
<text x="79.20" y="606.40" font-size="3.8" font-weight="normal" text-anchor="middle" fill="#000" stroke="#000" stroke-width="0.13">5</text>
<line x1="98.80" y1="594.40" x2="98.80" y2="598.10" stroke="#5a5a5a" stroke-width="0.75" />
<text x="98.80" y="606.40" font-size="3.8" font-weight="normal" text-anchor="middle" fill="#000" stroke="#000" stroke-width="0.13">11</text>
<line x1="118.50" y1="594.40" x2="118.50" y2="598.10" stroke="#5a5a5a" stroke-width="0.75" />
<text x="118.50" y="606.40" font-size="3.8" font-weight="normal" text-anchor="middle" fill="#000" stroke="#000" stroke-width="0.13">17</text>
<line x1="138.10" y1="594.40" x2="138.10" y2="598.10" stroke="#5a5a5a" stroke-width="0.75" />
<text x="138.10" y="606.40" font-size="3.8" font-weight="normal" text-anchor="middle" fill="#000" stroke="#000" stroke-width="0.13">23</text>
<line x1="157.80" y1="594.40" x2="157.80" y2="598.10" stroke="#5a5a5a" stroke-width="0.75" />
<text x="157.80" y="606.40" font-size="3.8" font-weight="normal" text-anchor="middle" fill="#000" stroke="#000" stroke-width="0.13">29</text>
<text x="116.40" y="618.50" font-size="6.55" font-weight="normal" text-anchor="middle" fill="#111" textLength="93.60" lengthAdjust="spacingAndGlyphs" stroke="#111" stroke-width="0.14">Post Induction (week of therapy)</text>
<text x="48.80" y="557.70" font-size="6.55" font-weight="normal" text-anchor="middle" fill="#111" textLength="86.80" lengthAdjust="spacingAndGlyphs" transform="rotate(-90 48.80 557.70)" stroke="#111" stroke-width="0.14">Asparaginase activity (IU/mL)</text>
<line x1="121.30" y1="522.70" x2="130.60" y2="522.70" stroke="#e8a0a8" stroke-width="0.6" />
<circle cx="125.95" cy="522.70" r="0.9" fill="#d0303c"/>
<text x="135.50" y="524.50" font-size="4.8" font-weight="normal" text-anchor="start" fill="#111" textLength="23.30" lengthAdjust="spacingAndGlyphs" >BSA &lt; 1.5</text>
<line x1="121.30" y1="527.80" x2="130.60" y2="527.80" stroke="#888" stroke-width="0.6" />
<rect x="124.85" y="526.70" width="2.2" height="2.2" fill="#000"/>
<text x="135.50" y="529.60" font-size="4.8" font-weight="normal" text-anchor="start" fill="#111" textLength="26.20" lengthAdjust="spacingAndGlyphs" >BSA &gt;= 1.5</text>
<text x="201.20" y="499.00" font-size="6.5" font-weight="normal" text-anchor="start" fill="#111" stroke="#111" stroke-width="0.1">d.</text>
<text x="288.40" y="503.50" font-size="6.55" font-weight="normal" text-anchor="middle" fill="#111" textLength="127.50" lengthAdjust="spacingAndGlyphs" stroke="#111" stroke-width="0.08">Serum Asparaginase Activity Levels by Age</text>
<text x="288.40" y="511.60" font-size="6.55" font-weight="normal" text-anchor="middle" fill="#111" textLength="48.50" lengthAdjust="spacingAndGlyphs" stroke="#111" stroke-width="0.08">(Post-Induction)</text>
<line x1="241.30" y1="585.18" x2="334.60" y2="585.18" stroke="#888" stroke-width="0.55" stroke-dasharray="1.0 1.4"/>
<line x1="247.70" y1="558.04" x2="247.70" y2="535.07" stroke="#c8a898" stroke-width="0.8" />
<line x1="246.70" y1="558.04" x2="248.70" y2="558.04" stroke="#c8a898" stroke-width="0.45" />
<line x1="246.70" y1="535.07" x2="248.70" y2="535.07" stroke="#c8a898" stroke-width="0.45" />
<line x1="267.60" y1="559.08" x2="267.60" y2="532.46" stroke="#c8a898" stroke-width="0.8" />
<line x1="266.60" y1="559.08" x2="268.60" y2="559.08" stroke="#c8a898" stroke-width="0.45" />
<line x1="266.60" y1="532.46" x2="268.60" y2="532.46" stroke="#c8a898" stroke-width="0.45" />
<line x1="287.80" y1="558.04" x2="287.80" y2="532.98" stroke="#c8a898" stroke-width="0.8" />
<line x1="286.80" y1="558.04" x2="288.80" y2="558.04" stroke="#c8a898" stroke-width="0.45" />
<line x1="286.80" y1="532.98" x2="288.80" y2="532.98" stroke="#c8a898" stroke-width="0.45" />
<line x1="307.70" y1="558.04" x2="307.70" y2="531.94" stroke="#c8a898" stroke-width="0.8" />
<line x1="306.70" y1="558.04" x2="308.70" y2="558.04" stroke="#c8a898" stroke-width="0.45" />
<line x1="306.70" y1="531.94" x2="308.70" y2="531.94" stroke="#c8a898" stroke-width="0.45" />
<line x1="327.70" y1="559.08" x2="327.70" y2="534.55" stroke="#c8a898" stroke-width="0.8" />
<line x1="326.70" y1="559.08" x2="328.70" y2="559.08" stroke="#c8a898" stroke-width="0.45" />
<line x1="326.70" y1="534.55" x2="328.70" y2="534.55" stroke="#c8a898" stroke-width="0.45" />
<line x1="247.70" y1="561.69" x2="247.70" y2="536.63" stroke="#aaa0a8" stroke-width="0.8" />
<line x1="246.70" y1="561.69" x2="248.70" y2="561.69" stroke="#aaa0a8" stroke-width="0.45" />
<line x1="246.70" y1="536.63" x2="248.70" y2="536.63" stroke="#aaa0a8" stroke-width="0.45" />
<line x1="267.60" y1="560.12" x2="267.60" y2="534.02" stroke="#aaa0a8" stroke-width="0.8" />
<line x1="266.60" y1="560.12" x2="268.60" y2="560.12" stroke="#aaa0a8" stroke-width="0.45" />
<line x1="266.60" y1="534.02" x2="268.60" y2="534.02" stroke="#aaa0a8" stroke-width="0.45" />
<line x1="287.80" y1="556.99" x2="287.80" y2="534.02" stroke="#aaa0a8" stroke-width="0.8" />
<line x1="286.80" y1="556.99" x2="288.80" y2="556.99" stroke="#aaa0a8" stroke-width="0.45" />
<line x1="286.80" y1="534.02" x2="288.80" y2="534.02" stroke="#aaa0a8" stroke-width="0.45" />
<line x1="307.70" y1="559.08" x2="307.70" y2="532.98" stroke="#aaa0a8" stroke-width="0.8" />
<line x1="306.70" y1="559.08" x2="308.70" y2="559.08" stroke="#aaa0a8" stroke-width="0.45" />
<line x1="306.70" y1="532.98" x2="308.70" y2="532.98" stroke="#aaa0a8" stroke-width="0.45" />
<line x1="327.70" y1="561.69" x2="327.70" y2="535.59" stroke="#aaa0a8" stroke-width="0.8" />
<line x1="326.70" y1="561.69" x2="328.70" y2="561.69" stroke="#aaa0a8" stroke-width="0.45" />
<line x1="326.70" y1="535.59" x2="328.70" y2="535.59" stroke="#aaa0a8" stroke-width="0.45" />
<line x1="247.70" y1="566.39" x2="247.70" y2="545.51" stroke="#a09890" stroke-width="0.8" />
<line x1="246.70" y1="566.39" x2="248.70" y2="566.39" stroke="#a09890" stroke-width="0.45" />
<line x1="246.70" y1="545.51" x2="248.70" y2="545.51" stroke="#a09890" stroke-width="0.45" />
<line x1="267.60" y1="565.34" x2="267.60" y2="544.46" stroke="#a09890" stroke-width="0.8" />
<line x1="266.60" y1="565.34" x2="268.60" y2="565.34" stroke="#a09890" stroke-width="0.45" />
<line x1="266.60" y1="544.46" x2="268.60" y2="544.46" stroke="#a09890" stroke-width="0.45" />
<line x1="287.80" y1="569.52" x2="287.80" y2="538.20" stroke="#a09890" stroke-width="0.8" />
<line x1="286.80" y1="569.52" x2="288.80" y2="569.52" stroke="#a09890" stroke-width="0.45" />
<line x1="286.80" y1="538.20" x2="288.80" y2="538.20" stroke="#a09890" stroke-width="0.45" />
<line x1="307.70" y1="566.91" x2="307.70" y2="535.59" stroke="#a09890" stroke-width="0.8" />
<line x1="306.70" y1="566.91" x2="308.70" y2="566.91" stroke="#a09890" stroke-width="0.45" />
<line x1="306.70" y1="535.59" x2="308.70" y2="535.59" stroke="#a09890" stroke-width="0.45" />
<line x1="327.70" y1="570.04" x2="327.70" y2="537.16" stroke="#a09890" stroke-width="0.8" />
<line x1="326.70" y1="570.04" x2="328.70" y2="570.04" stroke="#a09890" stroke-width="0.45" />
<line x1="326.70" y1="537.16" x2="328.70" y2="537.16" stroke="#a09890" stroke-width="0.45" />
<polyline fill="none" stroke="#cf9a90" stroke-width="0.5" points="247.70,544.99 267.60,543.42 287.80,542.90 307.70,542.90 327.70,545.51"/>
<circle cx="247.70" cy="544.99" r="0.9" fill="#b03038"/>
<circle cx="267.60" cy="543.42" r="0.9" fill="#b03038"/>
<circle cx="287.80" cy="542.90" r="0.9" fill="#b03038"/>
<circle cx="307.70" cy="542.90" r="0.9" fill="#b03038"/>
<circle cx="327.70" cy="545.51" r="0.9" fill="#b03038"/>
<polyline fill="none" stroke="#8a6ab0" stroke-width="0.5" points="247.70,545.51 267.60,546.55 287.80,543.42 307.70,542.90 327.70,545.51"/>
<circle cx="247.70" cy="545.51" r="1.1" fill="#2a2a90"/>
<circle cx="267.60" cy="546.55" r="1.1" fill="#2a2a90"/>
<circle cx="287.80" cy="543.42" r="1.1" fill="#2a2a90"/>
<circle cx="307.70" cy="542.90" r="1.1" fill="#2a2a90"/>
<circle cx="327.70" cy="545.51" r="1.1" fill="#2a2a90"/>
<polyline fill="none" stroke="#777" stroke-width="0.5" points="247.70,555.43 267.60,557.51 287.80,550.21 307.70,549.16 327.70,550.21"/>
<rect x="246.70" y="554.43" width="2.0" height="2.0" fill="#111"/>
<rect x="266.60" y="556.51" width="2.0" height="2.0" fill="#111"/>
<rect x="286.80" y="549.21" width="2.0" height="2.0" fill="#111"/>
<rect x="306.70" y="548.16" width="2.0" height="2.0" fill="#111"/>
<rect x="326.70" y="549.21" width="2.0" height="2.0" fill="#111"/>
<rect x="241.30" y="517.20" width="93.30" height="75.80" fill="none" stroke="#949494" stroke-width="0.55"/>
<line x1="238.10" y1="590.40" x2="241.30" y2="590.40" stroke="#949494" stroke-width="0.55" />
<text x="234.60" y="591.59" font-size="3.3" font-weight="normal" text-anchor="end" fill="#444" >0.0</text>
<line x1="238.10" y1="579.96" x2="241.30" y2="579.96" stroke="#949494" stroke-width="0.55" />
<text x="234.60" y="581.15" font-size="3.3" font-weight="normal" text-anchor="end" fill="#444" >0.2</text>
<line x1="238.10" y1="569.52" x2="241.30" y2="569.52" stroke="#949494" stroke-width="0.55" />
<text x="234.60" y="570.71" font-size="3.3" font-weight="normal" text-anchor="end" fill="#444" >0.4</text>
<line x1="238.10" y1="559.08" x2="241.30" y2="559.08" stroke="#949494" stroke-width="0.55" />
<text x="234.60" y="560.27" font-size="3.3" font-weight="normal" text-anchor="end" fill="#444" >0.6</text>
<line x1="238.10" y1="548.64" x2="241.30" y2="548.64" stroke="#949494" stroke-width="0.55" />
<text x="234.60" y="549.83" font-size="3.3" font-weight="normal" text-anchor="end" fill="#444" >0.8</text>
<line x1="238.10" y1="538.20" x2="241.30" y2="538.20" stroke="#949494" stroke-width="0.55" />
<text x="234.60" y="539.39" font-size="3.3" font-weight="normal" text-anchor="end" fill="#444" >1.0</text>
<line x1="238.10" y1="527.76" x2="241.30" y2="527.76" stroke="#949494" stroke-width="0.55" />
<text x="234.60" y="528.95" font-size="3.3" font-weight="normal" text-anchor="end" fill="#444" >1.2</text>
<line x1="238.10" y1="517.32" x2="241.30" y2="517.32" stroke="#949494" stroke-width="0.55" />
<text x="234.60" y="518.51" font-size="3.3" font-weight="normal" text-anchor="end" fill="#444" >1.4</text>
<line x1="247.70" y1="593.00" x2="247.70" y2="596.50" stroke="#949494" stroke-width="0.55" />
<text x="247.70" y="602.70" font-size="3.3" font-weight="normal" text-anchor="middle" fill="#444" >5</text>
<line x1="267.60" y1="593.00" x2="267.60" y2="596.50" stroke="#949494" stroke-width="0.55" />
<text x="267.60" y="602.70" font-size="3.3" font-weight="normal" text-anchor="middle" fill="#444" >11</text>
<line x1="287.80" y1="593.00" x2="287.80" y2="596.50" stroke="#949494" stroke-width="0.55" />
<text x="287.80" y="602.70" font-size="3.3" font-weight="normal" text-anchor="middle" fill="#444" >17</text>
<line x1="307.70" y1="593.00" x2="307.70" y2="596.50" stroke="#949494" stroke-width="0.55" />
<text x="307.70" y="602.70" font-size="3.3" font-weight="normal" text-anchor="middle" fill="#444" >23</text>
<line x1="327.70" y1="593.00" x2="327.70" y2="596.50" stroke="#949494" stroke-width="0.55" />
<text x="327.70" y="602.70" font-size="3.3" font-weight="normal" text-anchor="middle" fill="#444" >29</text>
<text x="284.80" y="618.50" font-size="6.55" font-weight="normal" text-anchor="middle" fill="#111" textLength="94.30" lengthAdjust="spacingAndGlyphs" stroke="#111" stroke-width="0.14">Post Induction (week of therapy)</text>
<text x="217.50" y="557.60" font-size="6.55" font-weight="normal" text-anchor="middle" fill="#111" textLength="86.80" lengthAdjust="spacingAndGlyphs" transform="rotate(-90 217.50 557.60)" stroke="#111" stroke-width="0.14">Asparaginase activity (IU/mL)</text>
<line x1="283.70" y1="520.70" x2="291.20" y2="520.70" stroke="#d8a0a0" stroke-width="0.6" />
<circle cx="287.45" cy="520.70" r="0.6" fill="#b03038"/>
<text x="294.90" y="522.20" font-size="4.2" font-weight="normal" text-anchor="start" fill="#3a3a3a" textLength="27.90" lengthAdjust="spacingAndGlyphs" >Age &lt; 10 years</text>
<line x1="283.70" y1="525.20" x2="291.20" y2="525.20" stroke="#8a7ab0" stroke-width="0.6" />
<circle cx="287.45" cy="525.20" r="0.8" fill="#2a2a90"/>
<text x="294.90" y="526.70" font-size="4.2" font-weight="normal" text-anchor="start" fill="#3a3a3a" textLength="37.70" lengthAdjust="spacingAndGlyphs" >Age 10 to &lt;15 years</text>
<line x1="283.70" y1="529.50" x2="291.20" y2="529.50" stroke="#888" stroke-width="0.6" />
<rect x="286.75" y="528.80" width="1.4" height="1.4" fill="#111"/>
<text x="294.90" y="531.00" font-size="4.2" font-weight="normal" text-anchor="start" fill="#3a3a3a" textLength="28.60" lengthAdjust="spacingAndGlyphs" >Age &gt;=15 years</text>
</svg>
</body></html>
